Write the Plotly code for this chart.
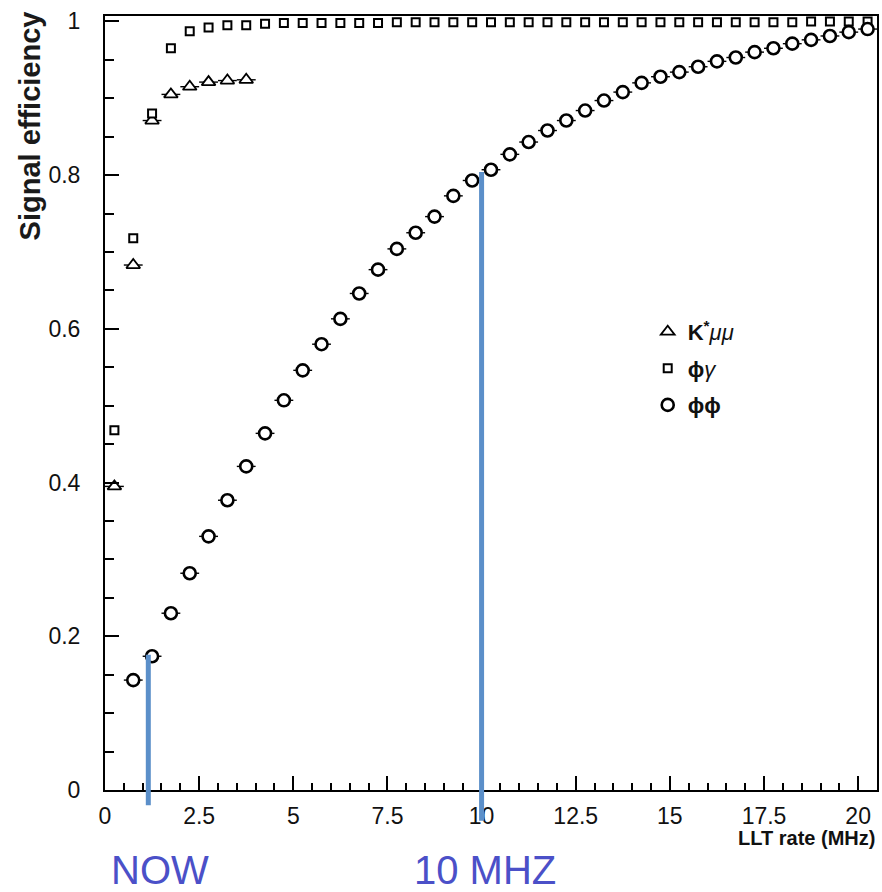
import plotly.graph_objects as go

# ---------------- data ----------------
x_kmumu = [0.25, 0.75, 1.25, 1.75, 2.25, 2.75, 3.25, 3.75]
y_kmumu = [0.395, 0.683, 0.871, 0.905, 0.915, 0.921, 0.923, 0.924]

x_phigamma = [0.25, 0.75, 1.25, 1.75, 2.25, 2.75, 3.25, 3.75, 4.25, 4.75,
              5.25, 5.75, 6.25, 6.75, 7.25, 7.75, 8.25, 8.75, 9.25, 9.75,
              10.25, 10.75, 11.25, 11.75, 12.25, 12.75, 13.25, 13.75, 14.25, 14.75,
              15.25, 15.75, 16.25, 16.75, 17.25, 17.75, 18.25, 18.75, 19.25, 19.75,
              20.25]
y_phigamma = [0.468, 0.718, 0.880, 0.965, 0.987, 0.992, 0.995, 0.995, 0.997, 0.998,
              0.998, 0.998, 0.998, 0.998, 0.998, 0.999, 0.999, 0.999, 0.999, 0.999,
              0.999, 0.999, 0.999, 0.999, 0.999, 0.999, 0.999, 0.999, 0.999, 0.999,
              0.999, 0.999, 0.999, 0.999, 0.999, 0.999, 0.999, 1.0, 1.0, 1.0,
              1.0]

x_phiphi = [0.75, 1.25, 1.75, 2.25, 2.75, 3.25, 3.75, 4.25, 4.75, 5.25,
            5.75, 6.25, 6.75, 7.25, 7.75, 8.25, 8.75, 9.25, 9.75, 10.25,
            10.75, 11.25, 11.75, 12.25, 12.75, 13.25, 13.75, 14.25, 14.75, 15.25,
            15.75, 16.25, 16.75, 17.25, 17.75, 18.25, 18.75, 19.25, 19.75, 20.25]
y_phiphi = [0.143, 0.174, 0.230, 0.282, 0.330, 0.377, 0.421, 0.464, 0.507, 0.546,
            0.580, 0.613, 0.646, 0.677, 0.704, 0.725, 0.746, 0.773, 0.793, 0.807,
            0.827, 0.843, 0.858, 0.871, 0.884, 0.897, 0.908, 0.920, 0.928, 0.934,
            0.941, 0.948, 0.953, 0.960, 0.965, 0.971, 0.976, 0.981, 0.986, 0.990]

bin_half_width = 0.25

# highlight lines (operating points) and their labels
marker_lines_x = [1.15, 10.0]
marker_lines_top = [0.176, 0.804]
marker_lines_bottom = [-0.02, -0.04]
label_texts = ["NOW", "10 MHZ"]
label_x = [1.45, 10.1]

series_names = ["<b>K<sup>*</sup></b><i>μμ</i>", "<b>ϕ</b><i>γ</i>", "<b>ϕϕ</b>"]

x_range = [0, 20.5]
y_range = [0, 1.007]

# ---------------- figure ----------------
fig = go.Figure()

fig.add_trace(go.Scatter(
    x=x_kmumu, y=y_kmumu, mode="markers", name=series_names[0], legendgroup="a",
    marker=dict(symbol="triangle-up", size=12, color="white",
                line=dict(color="black", width=1.8)),
    error_x=dict(type="constant", value=bin_half_width, thickness=1.4, width=0, color="black"),
))
fig.add_trace(go.Scatter(
    x=x_phigamma, y=y_phigamma, mode="markers", name=series_names[1], legendgroup="b",
    marker=dict(symbol="square", size=8, color="white",
                line=dict(color="black", width=2)),
))
fig.add_trace(go.Scatter(
    x=x_phiphi, y=y_phiphi, mode="markers", name=series_names[2], legendgroup="c",
    marker=dict(symbol="circle", size=12, color="white",
                line=dict(color="black", width=2.6)),
    error_x=dict(type="constant", value=bin_half_width, thickness=1.4, width=0, color="black"),
))

def to_paper_x(v):
    return (v - x_range[0]) / (x_range[1] - x_range[0])

def to_paper_y(v):
    return (v - y_range[0]) / (y_range[1] - y_range[0])

for xv, yt, yb in zip(marker_lines_x, marker_lines_top, marker_lines_bottom):
    fig.add_shape(type="line", xref="paper", yref="paper",
                  x0=to_paper_x(xv), x1=to_paper_x(xv),
                  y0=to_paper_y(yb), y1=to_paper_y(yt),
                  line=dict(color="#5b8fc9", width=5), layer="above")

for txt, xv in zip(label_texts, label_x):
    fig.add_annotation(text=txt, x=xv, xref="x", y=-0.104, yref="paper",
                       showarrow=False, xanchor="center", yanchor="middle",
                       font=dict(family="Liberation Sans", size=40, color="#4b50c8"))

# axis titles (ROOT style: aligned to axis ends)
fig.add_annotation(text="<b>Signal efficiency</b>", x=-0.097, xref="paper", y=1.008, yref="paper",
                   textangle=-90, showarrow=False, xanchor="center", yanchor="top",
                   font=dict(family="Liberation Sans", size=29, color="#1a1a1a"))
fig.add_annotation(text="<b>LLT rate (MHz)</b>", x=1.0, xref="paper", y=-0.062, yref="paper",
                   showarrow=False, xanchor="right", yanchor="middle",
                   font=dict(family="Liberation Sans", size=20, color="#111111"))

fig.update_xaxes(
    range=x_range, dtick=2.5, tick0=0, ticks="inside", ticklen=14, tickwidth=1.5,
    tickcolor="black", showline=True, linecolor="black", linewidth=2, mirror=True,
    showgrid=False, zeroline=False, ticklabelstandoff=4,
    tickfont=dict(family="Liberation Sans", size=23, color="#111111"),
    minor=dict(dtick=0.5, tick0=0, ticks="inside", ticklen=7, tickwidth=1.5,
               tickcolor="black", showgrid=False),
)
fig.update_yaxes(
    range=y_range, dtick=0.2, tick0=0, ticks="inside", ticklen=14, tickwidth=1.5,
    tickcolor="black", showline=True, linecolor="black", linewidth=2, mirror=True,
    showgrid=False, zeroline=False, ticklabelstandoff=18,
    tickfont=dict(family="Liberation Sans", size=23, color="#111111"),
    minor=dict(dtick=0.05, tick0=0, ticks="inside", ticklen=9, tickwidth=1.5,
               tickcolor="black", showgrid=False),
)

fig.update_layout(
    width=882, height=892,
    margin=dict(l=105, r=3, t=16, b=102),
    paper_bgcolor="white", plot_bgcolor="white",
    showlegend=True,
    legend=dict(x=0.703, y=0.619, xanchor="left", yanchor="top",
                bgcolor="rgba(0,0,0,0)", borderwidth=0, tracegroupgap=5,
                font=dict(family="Liberation Sans", size=22, color="#111111")),
)

fig.write_html("out.html", config={"displayModeBar": False},
               post_script="document.body.style.margin='0';document.body.style.overflow='hidden';")
